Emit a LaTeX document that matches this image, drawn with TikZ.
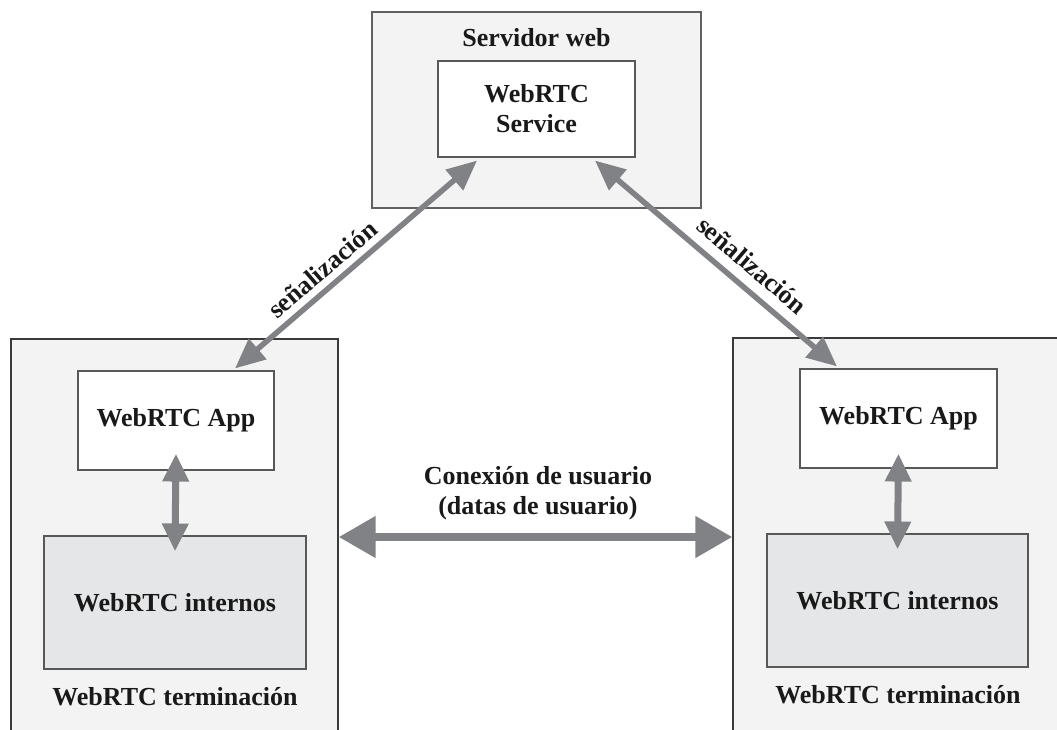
\documentclass[tikz,border=0pt]{standalone}
\usepackage{fontspec}
\setmainfont{Liberation Serif}
\usetikzlibrary{arrows.meta}
\definecolor{boxline}{HTML}{3A3A3A}
\definecolor{outerfill}{HTML}{F3F3F3}
\definecolor{intfill}{HTML}{E5E6E7}
\definecolor{arrowgray}{HTML}{808285}
\tikzset{
  txt/.style={font=\fontsize{26}{30}\selectfont\bfseries, text=black!90, align=center},
  outerbox/.style={draw=boxline, line width=1.4pt, fill=outerfill, inner sep=0pt},
  whitebox/.style={draw=boxline!85, line width=1.1pt, fill=white, inner sep=0pt, txt},
  intbox/.style={draw=boxline!85, line width=1.1pt, fill=intfill, inner sep=0pt, txt},
  bigarrow/.style={draw=arrowgray, line width=8pt, {Triangle[length=37pt,width=40pt]}-{Triangle[length=37pt,width=40pt]}},
  vertarrow/.style={draw=arrowgray, line width=7pt, {Triangle[length=28pt,width=25pt]}-{Triangle[length=28pt,width=25pt]}},
  diagarrow/.style={draw=arrowgray, line width=5.5pt, {Triangle[length=30pt,width=26pt]}-{Triangle[length=30pt,width=26pt]}},
}
\begin{document}
\begin{tikzpicture}[x=1pt,y=-1pt]
\useasboundingbox (0,0) rectangle (1057,729);
% server
\node[outerbox, draw=boxline!80, line width=1.2pt, minimum width=329pt, minimum height=196pt] (srv) at (536.5,110) {};
\node[txt] (srvlbl) at (536.5,38) {Servidor web};
\node[whitebox, minimum width=197pt, minimum height=96pt] (svc) at (536.5,109) {WebRTC\\Service};
% left terminal
\node[outerbox, minimum width=327pt, minimum height=421pt] (lout) at (174.5,549.5) {};
\node[whitebox, minimum width=196pt, minimum height=99pt] (lapp) at (176,420.5) {WebRTC App};
\node[intbox, minimum width=262pt, minimum height=133pt] (lint) at (175,602.5) {WebRTC internos};
\node[txt] (llbl) at (175,697) {WebRTC terminación};
% right terminal
\node[outerbox, minimum width=347pt, minimum height=422pt] (rout) at (906.5,549) {};
\node[whitebox, minimum width=197pt, minimum height=99pt] (rapp) at (898.5,418.5) {WebRTC App};
\node[intbox, minimum width=261pt, minimum height=133pt] (rint) at (897.5,600.5) {WebRTC internos};
\node[txt] (rlbl) at (898,695) {WebRTC terminación};
% arrows
\draw[vertarrow] ([yshift=17pt]lapp.south) -- ([yshift=-16pt]lint.north);
\draw[vertarrow] ([yshift=15pt]rapp.south) -- ([yshift=-16pt]rint.north);
\draw[bigarrow] ([yshift=12.5pt]lout.east) -- ([yshift=12pt]rout.west);
\node[txt] (conn) at (538,493) {Conexión de usuario\\(datas de usuario)};
\draw[diagarrow] ([xshift=59pt,yshift=2pt]lapp.north) -- node[txt, sloped, above=3pt, pos=0.41] (sl) {señalización} ([xshift=-59.5pt,yshift=-3pt]svc.south);
\draw[diagarrow] ([xshift=58.5pt,yshift=-3pt]svc.south) -- node[txt, sloped, above=7pt, pos=0.59] (sr) {señalización} ([xshift=-61.5pt,yshift=2pt]rapp.north);
\end{tikzpicture}
\end{document}
